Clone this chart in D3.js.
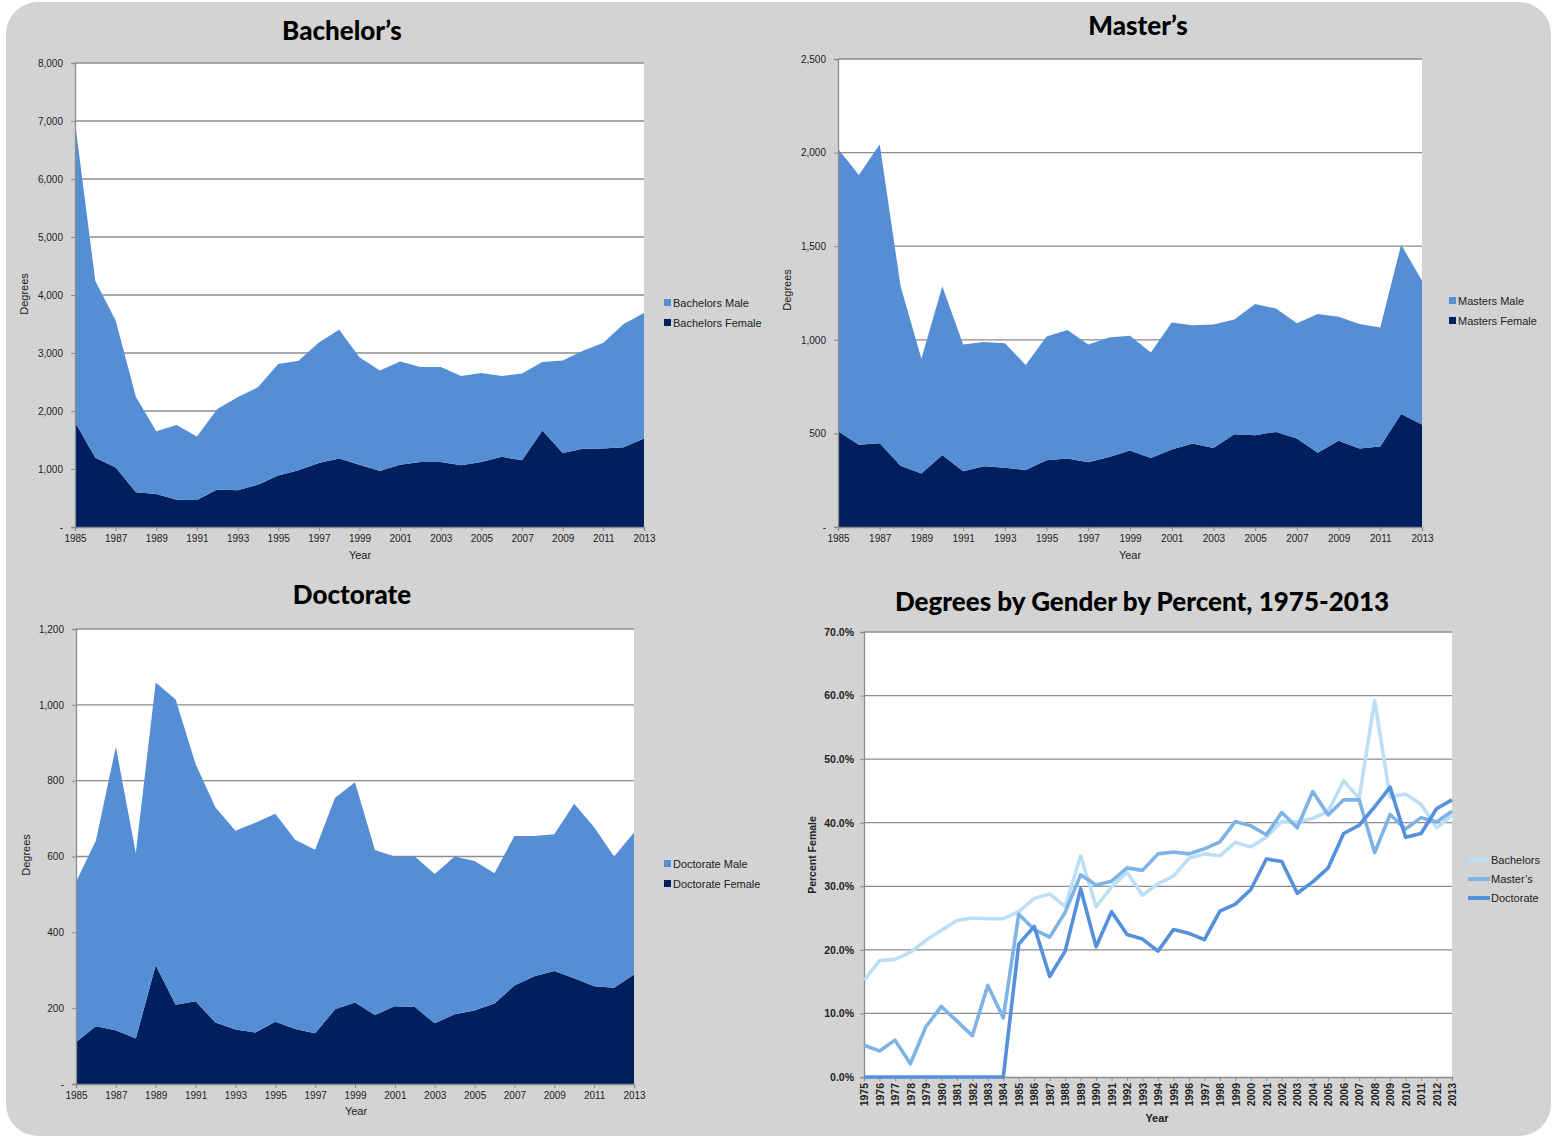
<!DOCTYPE html>
<html>
<head>
<meta charset="utf-8">
<script src="https://cdn.jsdelivr.net/npm/d3@7.9.0/dist/d3.min.js"></script>
<style>
  body { margin: 0; background: #fff; }
  svg text { font-family: "Liberation Sans", Arial, sans-serif; fill: #222; }
  .title { font-family: Lato, "Open Sans", sans-serif; font-weight: 900; fill: #000; }
</style>
</head>
<body>
<svg id="chart" width="1557" height="1137"></svg>
<script>
// years shared by the three stacked area charts
const years = d3.range(1985, 2014);

const bachelorsFemale = [1810, 1195, 1025, 600, 570, 470, 465, 645, 635, 730, 890, 980, 1105, 1180, 1075,
  965, 1075, 1120, 1120, 1065, 1120, 1210, 1150, 1665, 1275, 1350, 1355, 1375, 1525];
const bachelorsMale = [5170, 3045, 2535, 1640, 1080, 1290, 1095, 1390, 1600, 1680, 1920, 1885, 2075, 2220, 1850,
  1735, 1780, 1640, 1640, 1540, 1535, 1395, 1495, 1180, 1595, 1690, 1820, 2125, 2165];

const mastersFemale = [512, 440, 448, 327, 286, 385, 298, 325, 317, 304, 356, 366, 346, 374, 409,
  368, 414, 446, 422, 496, 490, 508, 473, 397, 461, 420, 430, 603, 547];
const mastersMale = [1508, 1441, 1597, 959, 613, 901, 677, 663, 664, 562, 662, 687, 629, 638, 612,
  564, 679, 632, 660, 613, 701, 659, 615, 741, 662, 664, 636, 905, 768];

const doctorateFemale = [110, 152, 142, 120, 313, 209, 218, 162, 144, 136, 164, 145, 134, 197, 215,
  182, 205, 203, 160, 184, 194, 212, 260, 284, 298, 279, 258, 254, 289];
const doctorateMale = [423, 490, 747, 489, 746, 805, 626, 567, 524, 553, 549, 499, 484, 558, 581,
  435, 395, 397, 394, 416, 394, 344, 394, 370, 361, 460, 419, 346, 374];

// percent female, 1975-2013
const pctYears = d3.range(1975, 2014);
const pctBachelors = [15.2, 18.3, 18.5, 19.6, 21.5, 23.1, 24.6, 25.0, 24.9, 24.9, 26.0, 28.1, 28.8, 26.8, 34.8,
  26.8, 29.9, 32.2, 28.6, 30.4, 31.6, 34.4, 35.1, 34.8, 36.9, 36.2, 37.7, 40.2, 40.1, 40.7,
  41.8, 46.6, 43.8, 59.2, 44.0, 44.5, 42.9, 39.2, 41.2];
const pctMasters = [5.0, 4.1, 5.8, 2.1, 7.9, 11.1, 8.8, 6.5, 14.4, 9.3, 25.6, 23.2, 22.0, 25.9, 31.8,
  30.2, 30.8, 32.9, 32.5, 35.1, 35.4, 35.1, 35.9, 37.0, 40.2, 39.5, 38.1, 41.6, 39.2, 44.9,
  41.2, 43.6, 43.6, 35.3, 41.3, 39.0, 40.8, 40.1, 41.8];
const pctDoctorate = [0, 0, 0, 0, 0, 0, 0, 0, 0, 0, 20.9, 23.7, 15.8, 19.8, 29.6,
  20.5, 26.0, 22.4, 21.7, 19.8, 23.2, 22.6, 21.6, 26.1, 27.2, 29.5, 34.3, 33.9, 28.9, 30.7,
  32.9, 38.3, 39.6, 42.5, 45.6, 37.7, 38.3, 42.2, 43.6];

const maleColor = '#558ed5';
const femaleColor = '#001f5c';
const gridColor = '#8c8c8c';

const svg = d3.select('#chart');

// grey rounded panel behind everything
svg.append('rect')
  .attr('x', 6).attr('y', 2)
  .attr('width', 1545).attr('height', 1134)
  .attr('rx', 32)
  .attr('fill', '#d3d3d3');

function drawArea(cfg) {
  const g = svg.append('g');
  const x = d3.scaleLinear().domain([1985, 2013]).range([cfg.left, cfg.right]);
  const y = d3.scaleLinear().domain([0, cfg.max]).range([cfg.bottom, cfg.top]);
  const ticks = d3.range(0, cfg.max + 1, cfg.step);

  g.append('rect')
    .attr('x', cfg.left).attr('y', cfg.top)
    .attr('width', cfg.right - cfg.left).attr('height', cfg.bottom - cfg.top)
    .attr('fill', '#fff');

  g.selectAll('.grid')
    .data(ticks.slice(1))
    .join('line')
    .attr('x1', cfg.left).attr('x2', cfg.right)
    .attr('y1', d => y(d)).attr('y2', d => y(d))
    .attr('stroke', gridColor).attr('stroke-width', 1.3);

  const rows = years.map((yr, i) => ({ year: yr, female: cfg.female[i], male: cfg.male[i] }));
  const series = d3.stack().keys(['female', 'male'])(rows);
  const area = d3.area()
    .x(d => x(d.data.year))
    .y0(d => y(d[0]))
    .y1(d => y(d[1]));

  g.selectAll('.layer')
    .data(series)
    .join('path')
    .attr('d', area)
    .attr('fill', d => d.key === 'female' ? femaleColor : maleColor);

  const yAxis = g.append('g')
    .attr('transform', `translate(${cfg.left},0)`)
    .call(d3.axisLeft(y).tickValues(ticks).tickSize(4).tickPadding(8)
      .tickFormat(d => d === 0 ? '-' : d3.format(',')(d)));
  const xAxis = g.append('g')
    .attr('transform', `translate(0,${cfg.bottom})`)
    .call(d3.axisBottom(x).tickValues(d3.range(1985, 2014, 2)).tickSize(4).tickPadding(4)
      .tickFormat(d3.format('d')));
  [yAxis, xAxis].forEach(a => {
    a.select('.domain').attr('stroke', gridColor).attr('stroke-width', 1.3);
    a.selectAll('.tick line').attr('stroke', gridColor);
    a.selectAll('text').attr('font-size', 10).attr('fill', '#222');
    a.attr('font-family', null);
  });

  g.append('text')
    .attr('class', 'title')
    .attr('x', cfg.titleX).attr('y', cfg.titleY)
    .attr('text-anchor', 'middle')
    .attr('font-size', 26)
    .text(cfg.title);

  g.append('text')
    .attr('transform', `translate(${cfg.ylabX},${cfg.ylabY}) rotate(-90)`)
    .attr('text-anchor', 'middle')
    .attr('font-size', 11)
    .text('Degrees');

  g.append('text')
    .attr('x', cfg.xlabX).attr('y', cfg.xlabY)
    .attr('text-anchor', 'middle')
    .attr('font-size', 11)
    .text('Year');

  const legend = g.append('g').attr('transform', `translate(${cfg.legendX},${cfg.legendY})`);
  const items = [{ name: cfg.names[0], color: maleColor }, { name: cfg.names[1], color: femaleColor }];
  items.forEach((it, i) => {
    legend.append('rect')
      .attr('x', 0).attr('y', i * 20 - 4)
      .attr('width', 7).attr('height', 7)
      .attr('fill', it.color);
    legend.append('text')
      .attr('x', 9).attr('y', i * 20 + 4)
      .attr('font-size', 11)
      .text(it.name);
  });
}

drawArea({
  left: 75, right: 644, top: 63, bottom: 527, max: 8000, step: 1000,
  female: bachelorsFemale, male: bachelorsMale,
  title: 'Bachelor’s', titleX: 342, titleY: 40,
  ylabX: 28, ylabY: 294, xlabX: 360, xlabY: 559,
  legendX: 664, legendY: 303, names: ['Bachelors Male', 'Bachelors Female']
});

drawArea({
  left: 838, right: 1422, top: 59, bottom: 527, max: 2500, step: 500,
  female: mastersFemale, male: mastersMale,
  title: 'Master’s', titleX: 1138, titleY: 35,
  ylabX: 791, ylabY: 290, xlabX: 1130, xlabY: 559,
  legendX: 1449, legendY: 301, names: ['Masters Male', 'Masters Female']
});

drawArea({
  left: 76, right: 634, top: 629, bottom: 1084, max: 1200, step: 200,
  female: doctorateFemale, male: doctorateMale,
  title: 'Doctorate', titleX: 352, titleY: 604,
  ylabX: 30, ylabY: 855, xlabX: 356, xlabY: 1115,
  legendX: 664, legendY: 864, names: ['Doctorate Male', 'Doctorate Female']
});

// percent female line chart
(function () {
  const left = 864, right = 1452, top = 632, bottom = 1077;
  const g = svg.append('g');
  const x = d3.scaleLinear().domain([1975, 2013]).range([left, right]);
  const y = d3.scaleLinear().domain([0, 70]).range([bottom, top]);
  const ticks = d3.range(0, 71, 10);

  g.append('rect')
    .attr('x', left).attr('y', top)
    .attr('width', right - left).attr('height', bottom - top)
    .attr('fill', '#fff');

  g.selectAll('.grid')
    .data(ticks.slice(1))
    .join('line')
    .attr('x1', left).attr('x2', right)
    .attr('y1', d => y(d)).attr('y2', d => y(d))
    .attr('stroke', gridColor).attr('stroke-width', 1.3);

  const lines = [
    { name: 'Bachelors', values: pctBachelors, color: '#bcdff5' },
    { name: 'Master’s', values: pctMasters, color: '#7db3e5' },
    { name: 'Doctorate', values: pctDoctorate, color: '#5590dc' }
  ];
  const line = d3.line().x((d, i) => x(pctYears[i])).y(d => y(d));

  const yAxis = g.append('g')
    .attr('transform', `translate(${left},0)`)
    .call(d3.axisLeft(y).tickValues(ticks).tickSize(4).tickPadding(6)
      .tickFormat(d => d3.format('.1f')(d) + '%'));
  const xAxis = g.append('g')
    .attr('transform', `translate(0,${bottom})`)
    .call(d3.axisBottom(x).tickValues(pctYears).tickSize(4).tickFormat(d3.format('d')));
  xAxis.selectAll('text')
    .attr('transform', 'rotate(-90)')
    .attr('text-anchor', 'end')
    .attr('x', -6).attr('y', 0).attr('dy', '0.35em');
  [yAxis, xAxis].forEach(a => {
    a.select('.domain').attr('stroke', gridColor).attr('stroke-width', 1.3);
    a.selectAll('.tick line').attr('stroke', gridColor);
    a.selectAll('text').attr('font-size', 10.5).attr('font-weight', 700).attr('fill', '#222');
    a.attr('font-family', null);
  });

  g.selectAll('.series')
    .data(lines)
    .join('path')
    .attr('d', d => line(d.values))
    .attr('fill', 'none')
    .attr('stroke', d => d.color)
    .attr('stroke-width', 3.6)
    .attr('stroke-linejoin', 'round');

  g.append('text')
    .attr('class', 'title')
    .attr('x', 1142).attr('y', 611)
    .attr('text-anchor', 'middle')
    .attr('font-size', 26)
    .text('Degrees by Gender by Percent, 1975-2013');

  g.append('text')
    .attr('transform', 'translate(816,855) rotate(-90)')
    .attr('text-anchor', 'middle')
    .attr('font-size', 10.5).attr('font-weight', 700)
    .text('Percent Female');

  g.append('text')
    .attr('x', 1157).attr('y', 1122)
    .attr('text-anchor', 'middle')
    .attr('font-size', 11).attr('font-weight', 700)
    .text('Year');

  const legend = g.append('g').attr('transform', 'translate(1468,860)');
  lines.forEach((l, i) => {
    legend.append('line')
      .attr('x1', 0).attr('x2', 22)
      .attr('y1', i * 19).attr('y2', i * 19)
      .attr('stroke', l.color).attr('stroke-width', 4);
    legend.append('text')
      .attr('x', 23).attr('y', i * 19 + 4)
      .attr('font-size', 11)
      .text(l.name);
  });
})();
</script>
</body>
</html>
